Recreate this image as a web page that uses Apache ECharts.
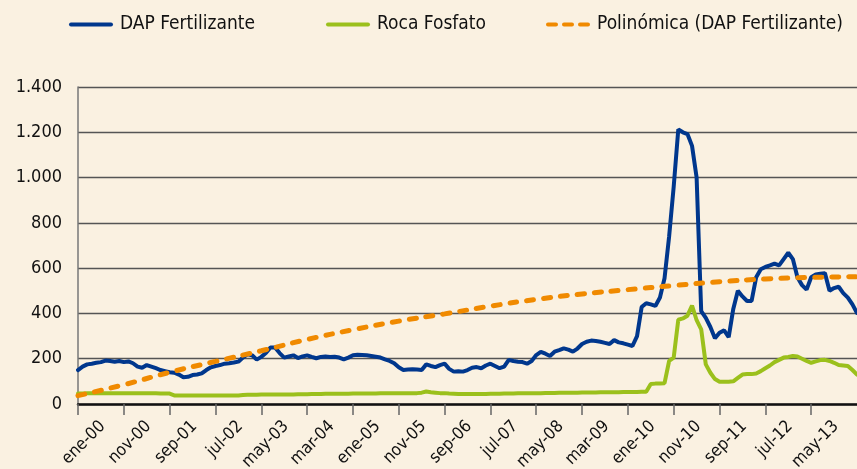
<!DOCTYPE html>
<html>
<head>
<meta charset="utf-8">
<script src="https://cdn.jsdelivr.net/npm/echarts@6/dist/echarts.min.js"></script>
<style>
  html, body { margin: 0; padding: 0; background: #faf1e1; }
  #main { width: 857px; height: 469px; }
</style>
</head>
<body>
<div id="main"></div>
<script>
// meses ene-00 .. mar-14
const mesesNombres = ["ene", "feb", "mar", "abr", "may", "jun", "jul", "ago", "sep", "oct", "nov", "dic"];
const meses = [];
for (let a = 0; a <= 14; a++) {
  for (let m = 0; m < 12; m++) {
    if (meses.length < 171) meses.push(mesesNombres[m] + "-" + String(a).padStart(2, "0"));
  }
}

// DAP Fertilizante (US$/t)
const dap = [
  150, 165, 175, 178, 182, 185, 192, 190, 187, 190,
  185, 188, 180, 165, 160, 172, 165, 158, 150, 145,
  140, 138, 130, 118, 120, 128, 130, 135, 150, 162,
  168, 172, 178, 180, 183, 187, 205, 220, 215, 196,
  208, 225, 250, 250, 225, 205, 210, 215, 203, 210,
  215, 208, 202, 208, 210, 208, 209, 205, 197, 205,
  215, 217, 216, 215, 212, 209, 205, 197, 190, 180,
  162, 150, 152, 153, 152, 150, 175, 168, 163, 172,
  178, 155, 143, 145, 143, 150, 160, 163, 158, 170,
  178, 168, 158, 165, 195, 190, 187, 185, 178, 190,
  216, 230, 222, 212, 231, 238, 246, 240, 231, 245,
  265, 275, 280, 278, 275, 270, 265, 282, 272, 268,
  262, 256, 300, 428, 445, 440, 433, 470, 555, 740,
  960, 1213, 1200, 1192, 1140, 1000, 410, 380, 340, 290,
  315, 325, 295, 420, 500, 475, 455, 455, 560, 595,
  605, 612, 620, 612, 640, 668, 640, 560, 525, 505,
  560, 572, 575, 578, 500, 512, 518, 490, 470, 440,
  402
];

// Roca Fosfato (US$/t)
const roca = [
  46, 46, 47, 47, 47, 47, 47, 47, 47, 47,
  47, 47, 47, 47, 47, 47, 47, 47, 46, 46,
  46, 38, 38, 38, 38, 38, 38, 38, 38, 38,
  38, 38, 38, 38, 38, 38, 40, 41, 41, 41,
  42, 42, 42, 42, 42, 42, 42, 42, 43, 43,
  43, 44, 44, 44, 45, 45, 45, 45, 45, 45,
  46, 46, 46, 46, 46, 46, 47, 47, 47, 47,
  47, 47, 48, 48, 48, 50, 55, 52, 50, 48,
  48, 46, 45, 44, 44, 44, 44, 44, 44, 44,
  45, 45, 45, 46, 46, 46, 47, 47, 47, 48,
  48, 48, 49, 49, 49, 50, 50, 50, 50, 50,
  51, 51, 51, 51, 52, 52, 52, 52, 52, 53,
  53, 53, 53, 54, 54, 88, 90, 91, 92, 190,
  205, 372, 378, 390, 435, 370, 330, 175, 138, 110,
  98, 98, 98, 100, 115, 130, 132, 132, 135, 145,
  158, 170, 185, 195, 205, 208, 212, 210, 200, 190,
  182, 188, 194, 195, 190, 182, 172, 170, 168, 150,
  130
];

// tendencia polinómica (leída cada 10 meses)
const tendenciaIdx = [0, 10, 20, 30, 40, 50, 60, 70, 80, 90, 100, 110, 120, 130, 140, 150, 160, 170];
const tendenciaVal = [37, 85, 140, 188, 235, 285, 328, 366, 398, 432, 462, 486, 505, 523, 540, 552, 559, 562];

const yTicks = [0, 200, 400, 600, 800, 1000, 1200, 1400];

const tendencia = meses.map(() => null);
tendenciaIdx.forEach((i, k) => { tendencia[i] = tendenciaVal[k]; });

const fuente = "'Liberation Sans Narrow', 'DejaVu Sans Condensed', 'Liberation Sans', sans-serif";
const myChart = echarts.init(document.getElementById("main"));

// iconos de la leyenda
const iconoLinea = "path://M2,0h40a2,2 0 0 1 0,4h-40a2,2 0 0 1 0,-4z";
const iconoGuion = "path://M2,0h8a2,2 0 0 1 0,4h-8a2,2 0 0 1 0,-4z M18,0h8a2,2 0 0 1 0,4h-8a2,2 0 0 1 0,-4z M34,0h8a2,2 0 0 1 0,4h-8a2,2 0 0 1 0,-4z";

const legendaBase = {
  top: 10,
  itemWidth: 44,
  itemHeight: 5,
  itemGap: 10,
  textStyle: { fontSize: 19, color: "#111", fontFamily: fuente, padding: [0, 0, 0, 2] },
  selectedMode: false
};

// etiquetas cada 10 meses (la última queda fuera del corte)
const cadaDiez = function (i) { return i % 10 === 0 && i < 170; };

const option = {
  backgroundColor: "#faf1e1",
  animation: false,
  legend: [
    Object.assign({}, legendaBase, { left: 64, data: [{ name: "DAP Fertilizante", icon: iconoLinea }] }),
    Object.assign({}, legendaBase, { left: 321, data: [{ name: "Roca Fosfato", icon: iconoLinea }] }),
    Object.assign({}, legendaBase, { left: 541, data: [{ name: "Polinómica (DAP Fertilizante)", icon: iconoGuion }] })
  ],
  grid: { left: 78, right: 0, top: 87, bottom: 65, outerBoundsMode: "none", containLabel: false },
  xAxis: {
    type: "category",
    data: meses,
    boundaryGap: false,
    axisLine: { lineStyle: { color: "#111", width: 2.5 } },
    axisTick: { interval: cadaDiez, length: 11, lineStyle: { color: "#666", width: 1.5 } },
    axisLabel: {
      interval: 0,
      formatter: function (v, i) { return cadaDiez(i) ? v : ""; },
      rotate: 45,
      margin: -5,
      verticalAlign: "top",
      lineHeight: 70,
      hideOverlap: false,
      fontSize: 17,
      color: "#111",
      fontFamily: fuente
    }
  },
  yAxis: {
    type: "value",
    min: 0,
    max: 1400,
    interval: 200,
    axisLine: { show: true, lineStyle: { color: "#777", width: 1.5 } },
    axisTick: { show: false },
    splitLine: { lineStyle: { color: "#555", width: 1.3 } },
    axisLabel: {
      margin: 16,
      fontSize: 18,
      color: "#111",
      fontFamily: fuente,
      formatter: function (v) {
        return yTicks.indexOf(v) >= 0 ? v.toLocaleString("de-DE") : "";
      }
    }
  },
  series: [
    {
      name: "Roca Fosfato",
      type: "line",
      data: roca,
      symbol: "none",
      color: "#9bc01c",
      lineStyle: { width: 4, color: "#9bc01c", cap: "round" }
    },
    {
      name: "DAP Fertilizante",
      type: "line",
      data: dap,
      symbol: "none",
      color: "#00378d",
      lineStyle: { width: 4, color: "#00378d", cap: "round" }
    },
    {
      name: "Polinómica (DAP Fertilizante)",
      type: "line",
      data: tendencia,
      connectNulls: true,
      smooth: true,
      symbol: "none",
      color: "#f08a00",
      lineStyle: { width: 5, color: "#f08a00", type: [7, 10], cap: "round" }
    }
  ]
};

option && myChart.setOption(option);
</script>
</body>
</html>
